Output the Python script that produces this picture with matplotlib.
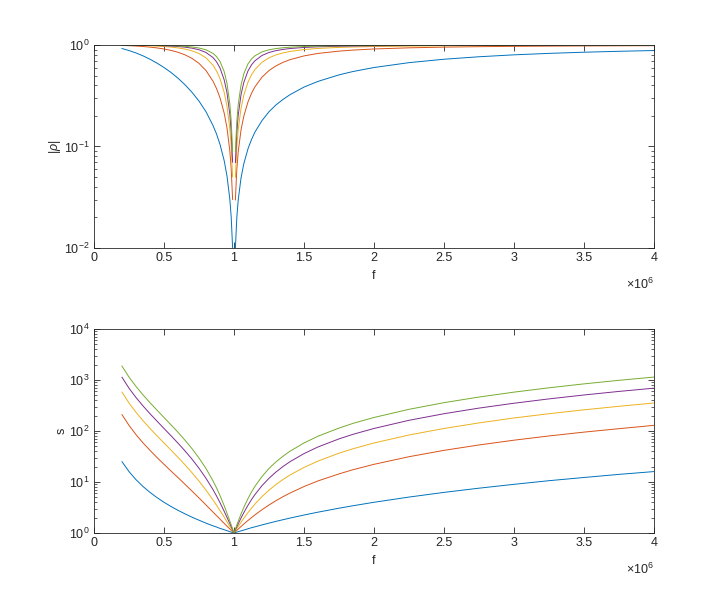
import numpy as np
import matplotlib.pyplot as plt

plt.rcParams['font.family'] = ['Liberation Sans', 'DejaVu Sans']
plt.rcParams['mathtext.fontset'] = 'custom'
plt.rcParams['mathtext.rm'] = 'Liberation Sans'
plt.rcParams['mathtext.it'] = 'Liberation Sans:italic'

# frequency (x 1e6 Hz)
f = [0.2, 0.25, 0.3, 0.35, 0.4, 0.45, 0.5, 0.55, 0.6, 0.65, 0.7, 0.75, 0.8, 0.85,
     0.875, 0.9, 0.93, 0.95, 0.97, 0.98, 0.99, 1.0, 1.01, 1.02, 1.03, 1.05, 1.07,
     1.1, 1.125, 1.15, 1.2, 1.25, 1.3, 1.35, 1.4, 1.5, 1.6, 1.75, 1.85, 2.0, 2.25,
     2.5, 2.75, 3.0, 3.25, 3.5, 3.75, 4.0]

# |rho| (nan where the curve drops out at f = 1)
rho_1 = [0.923, 0.882, 0.835, 0.782, 0.724, 0.663, 0.600, 0.536, 0.471, 0.406, 0.342,
         0.280, 0.220, 0.161, 0.133, 0.105, 0.0724, 0.0512, 0.0304, 0.0202, 0.01005,
         np.nan, 0.00995, 0.0198, 0.0296, 0.0488, 0.0676, 0.095, 0.117, 0.139, 0.180,
         0.220, 0.257, 0.291, 0.324, 0.385, 0.438, 0.508, 0.548, 0.600, 0.670, 0.724,
         0.766, 0.800, 0.827, 0.849, 0.867, 0.882]
rho_2 = [0.9905, 0.9846, 0.9767, 0.9664, 0.9531, 0.936, 0.9138, 0.8852, 0.848, 0.800,
         0.738, 0.659, 0.560, 0.440, 0.373, 0.302, 0.213, 0.152, 0.091, 0.0605, 0.0301,
         np.nan, 0.0298, 0.0593, 0.0883, 0.145, 0.199, 0.275, 0.334, 0.388, 0.482,
         0.560, 0.623, 0.675, 0.717, 0.781, 0.826, 0.870, 0.891, 0.9138, 0.938, 0.9531,
         0.963, 0.9701, 0.975, 0.9792, 0.982, 0.9846]
rho_3 = [0.9965, 0.9944, 0.9914, 0.9875, 0.9823, 0.9755, 0.9662, 0.9537, 0.9363, 0.9119,
         0.8766, 0.8247, 0.7474, 0.6323, 0.556, 0.4668, 0.341, 0.2485, 0.1506, 0.1005,
         0.0502, np.nan, 0.0497, 0.0985, 0.146, 0.237, 0.321, 0.431, 0.508, 0.574,
         0.676, 0.747, 0.799, 0.836, 0.864, 0.9015, 0.925, 0.9469, 0.956, 0.9662, 0.976,
         0.9823, 0.986, 0.9889, 0.9909, 0.9923, 0.9935, 0.9944]
rho_4 = [0.9982, 0.9971, 0.9956, 0.9936, 0.9909, 0.9873, 0.9823, 0.9755, 0.9659, 0.952,
         0.931, 0.898, 0.844, 0.7525, 0.684, 0.594, 0.453, 0.338, 0.2086, 0.140, 0.0702,
         np.nan, 0.0695, 0.137, 0.203, 0.323, 0.428, 0.556, 0.637, 0.700, 0.789, 0.844,
         0.880, 0.905, 0.923, 0.946, 0.960, 0.972, 0.977, 0.9823, 0.9877, 0.9909,
         0.9929, 0.9943, 0.9953, 0.9961, 0.9967, 0.9971]
rho_5 = [0.9989, 0.9983, 0.9973, 0.9961, 0.9944, 0.9922, 0.9892, 0.985, 0.979, 0.970,
         0.9565, 0.9345, 0.8966, 0.8267, 0.770, 0.689, 0.547, 0.419, 0.264, 0.179,
         0.0901, np.nan, 0.0892, 0.1755, 0.257, 0.402, 0.520, 0.652, 0.728, 0.784,
         0.855, 0.897, 0.922, 0.940, 0.951, 0.966, 0.975, 0.9827, 0.986, 0.9892, 0.9925,
         0.9944, 0.9957, 0.9965, 0.9972, 0.9976, 0.9980, 0.9983]

# s
s_1 = [25.0, 16.0, 11.1, 8.16, 6.25, 4.94, 4.0, 3.31, 2.78, 2.37, 2.04, 1.78, 1.56, 1.38,
       1.31, 1.23, 1.16, 1.11, 1.06, 1.04, 1.02, 1.0, 1.02, 1.04, 1.06, 1.10, 1.14,
       1.21, 1.27, 1.32, 1.44, 1.56, 1.69, 1.82, 1.96, 2.25, 2.56, 3.06, 3.42, 4.0,
       5.06, 6.25, 7.56, 9.0, 10.6, 12.25, 14.1, 16.0]
s_2 = [209, 129, 84.8, 58.5, 41.7, 30.2, 22.2, 16.4, 12.2, 9.0, 6.63, 4.86, 3.54, 2.57,
       2.19, 1.87, 1.54, 1.36, 1.20, 1.13, 1.06, 1.0, 1.06, 1.13, 1.19, 1.34, 1.50,
       1.76, 2.00, 2.27, 2.86, 3.54, 4.30, 5.15, 6.07, 8.13, 10.5, 14.4, 17.4, 22.2,
       31.3, 41.7, 53.2, 66.0, 79.9, 95.0, 111, 129]
s_3 = [578, 354, 232, 159, 112, 80.5, 58.2, 42.2, 30.4, 21.7, 15.2, 10.4, 6.92, 4.44,
       3.51, 2.75, 2.04, 1.66, 1.35, 1.22, 1.11, 1.0, 1.10, 1.22, 1.34, 1.62, 1.94,
       2.51, 3.07, 3.70, 5.17, 6.92, 8.93, 11.2, 13.7, 19.3, 25.7, 36.7, 44.8, 58.2,
       83.5, 112, 144, 180, 218, 260, 305, 354]
s_4 = [1131, 691, 453, 310, 218, 156, 112, 80.8, 57.7, 40.7, 28.0, 18.6, 11.8, 7.08,
       5.33, 3.93, 2.66, 2.02, 1.53, 1.33, 1.15, 1.0, 1.15, 1.32, 1.51, 1.96, 2.50,
       3.50, 4.51, 5.68, 8.47, 11.8, 15.7, 20.1, 25.0, 36.0, 48.6, 70.0, 86.0, 112,
       162, 218, 281, 350, 426, 508, 597, 691]
s_5 = [1868, 1141, 747, 511, 359, 256, 184, 132, 94.2, 65.9, 45.0, 29.5, 18.4, 10.5,
       7.68, 5.43, 3.42, 2.44, 1.72, 1.44, 1.20, 1.0, 1.20, 1.43, 1.69, 2.35, 3.17,
       4.74, 6.36, 8.25, 12.8, 18.4, 24.8, 32.0, 40.1, 58.2, 79.0, 114, 141, 184, 266,
       359, 463, 578, 703, 839, 985, 1141]

colors = ['#0072BD', '#D95319', '#EDB120', '#7E2F8E', '#77AC30']
axis_color = '#262626'


def style_axis(ax):
    ax.set_xlim(0, 4)
    ax.set_xticks(np.arange(0, 4.01, 0.5))
    ax.set_xticklabels(['0', '0.5', '1', '1.5', '2', '2.5', '3', '3.5', '4'])
    ax.set_yscale('log')
    ax.tick_params(which='both', direction='in', top=True, right=True,
                   colors=axis_color, labelsize=9)
    ax.tick_params(which='major', length=4, width=0.6, pad=3)
    ax.tick_params(which='minor', length=2.2, width=0.5)
    ax.tick_params(axis='x', which='minor', top=False, bottom=False)
    for sp in ax.spines.values():
        sp.set_color(axis_color)
        sp.set_linewidth(0.6)
    ax.set_xlabel('f', fontsize=9, color=axis_color, labelpad=4)
    ax.text(1.0, -0.178, r'$\times10^{6}$', transform=ax.transAxes,
            ha='right', va='center', fontsize=9, color=axis_color)


fig = plt.figure(figsize=(7.23, 6.0), dpi=100)
ax1 = fig.add_axes([0.130, 0.5867, 0.7746, 0.3383])
ax2 = fig.add_axes([0.130, 0.1117, 0.7746, 0.3400])

for rho, c in zip([rho_1, rho_2, rho_3, rho_4, rho_5], colors):
    ax1.plot(f, rho, color=c, lw=0.7)
style_axis(ax1)
ax1.set_ylim(1e-2, 1)
ax1.set_ylabel(r'$|\rho|$', fontsize=9, color=axis_color, labelpad=1)

for s, c in zip([s_1, s_2, s_3, s_4, s_5], colors):
    ax2.plot(f, s, color=c, lw=0.7)
style_axis(ax2)
ax2.set_ylim(1, 1e4)
ax2.set_ylabel('s', fontsize=9, color=axis_color, labelpad=1)

fig.savefig('out.png', dpi=100, facecolor='white')
